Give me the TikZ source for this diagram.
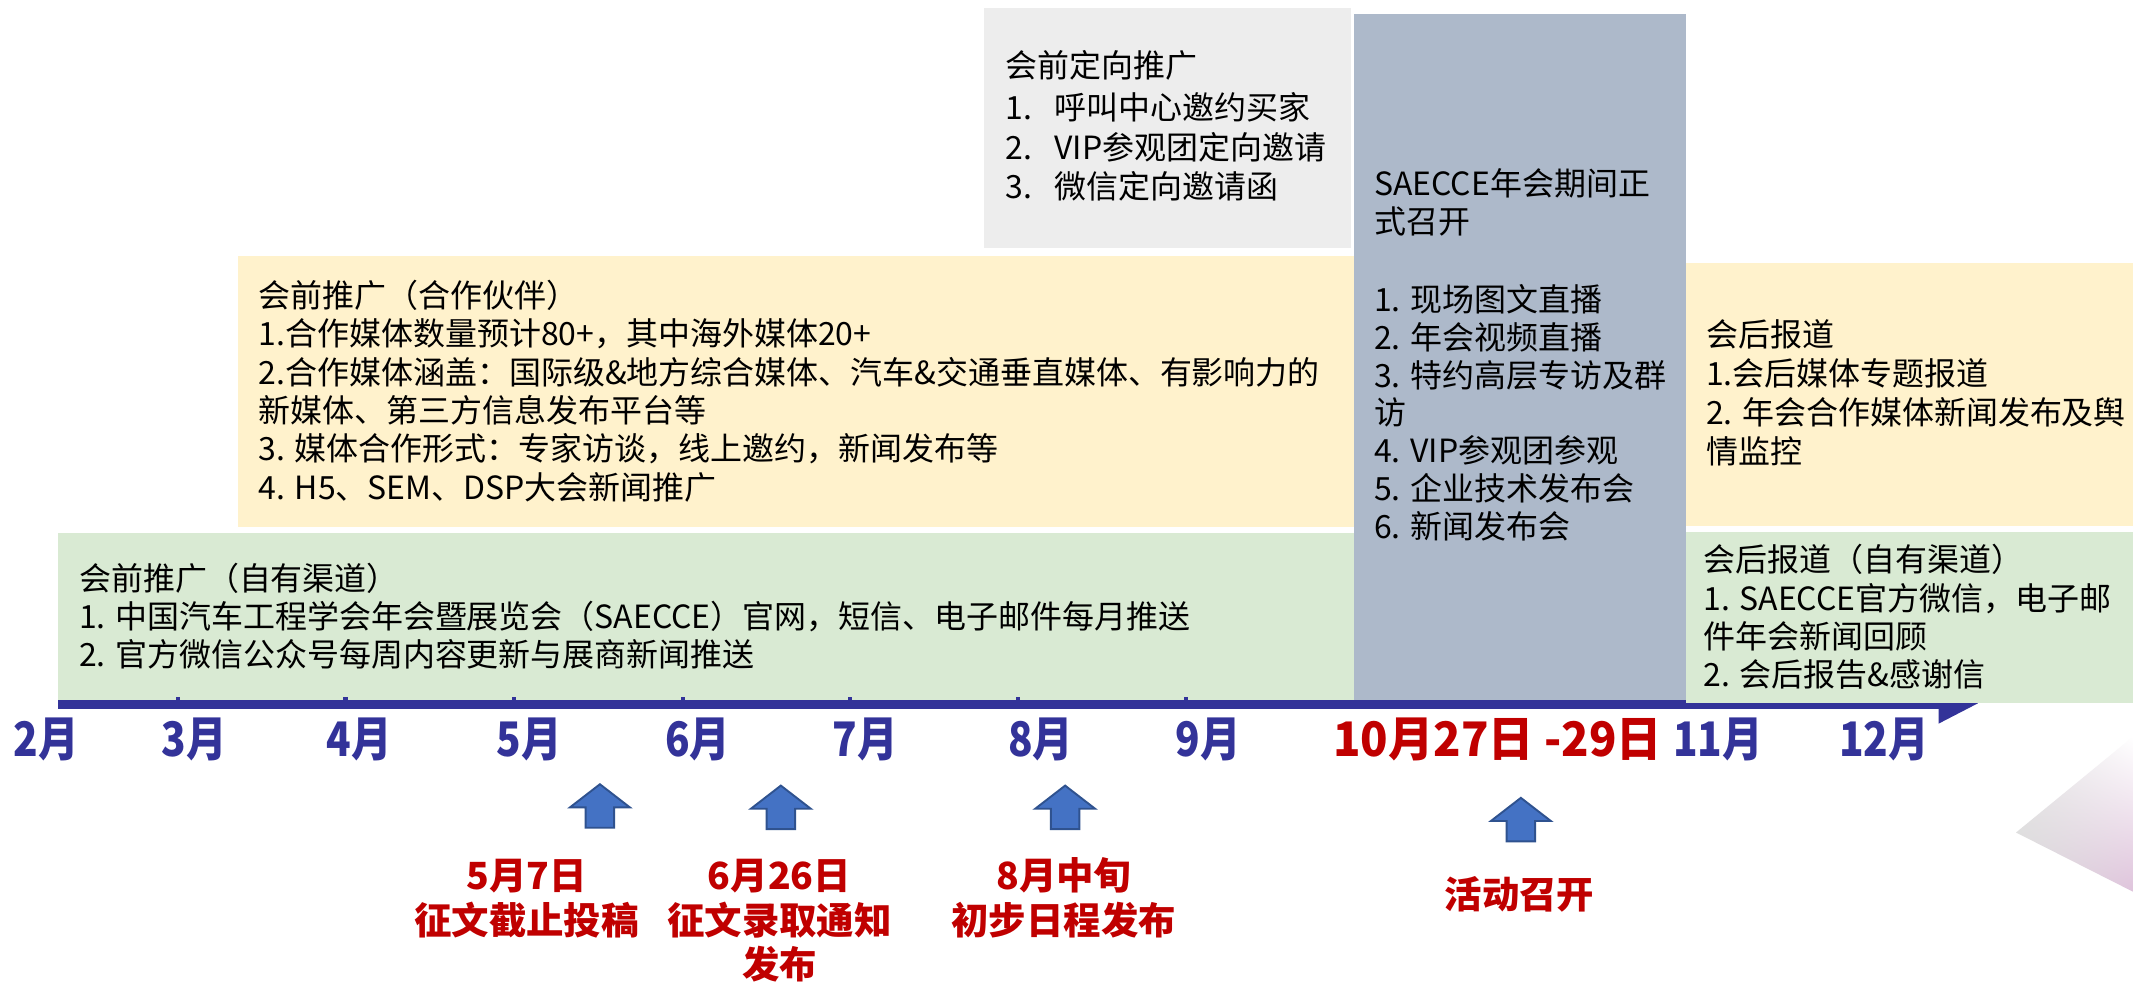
\documentclass[tikz,border=0pt]{standalone}
\usepackage{fontspec}
\usetikzlibrary{shadings}
\setmainfont{Noto Sans CJK SC}
\newfontfamily\monthfont{Noto Sans CJK SC}[FakeStretch=0.85]
\newfontfamily\datefont{Noto Sans CJK SC}[FakeStretch=0.95]
\definecolor{boxgreen}{HTML}{D9EAD3}
\definecolor{boxyellow}{HTML}{FFF2CC}
\definecolor{boxgray}{HTML}{EDEDED}
\definecolor{boxblue}{HTML}{ADB9CA}
\definecolor{tlblue}{HTML}{333399}
\definecolor{arrfill}{HTML}{4472C4}
\definecolor{arrdraw}{HTML}{2F528F}
\definecolor{myred}{HTML}{C00000}
\definecolor{decopink}{HTML}{DFC4DC}
\definecolor{decogray}{HTML}{D9D9D9}
\definecolor{decolight}{HTML}{E8E8E8}
\tikzset{
  txt/.style={font=\fontsize{23.5}{28}\selectfont, inner sep=0, anchor=base west, text=black},
  month/.style={font={\monthfont\bfseries\fontsize{35}{40}\selectfont}, text=tlblue, anchor=base, inner sep=0},
  redlbl/.style={font={\bfseries\fontsize{27.5}{33}\selectfont}, text=myred, anchor=base, inner sep=0},
  uparr/.pic={\path[fill=arrfill, draw=arrdraw, line width=1.4pt, line join=miter]
      (0,0) -- (22,17) -- (10.5,17) -- (10.5,32) -- (-10.5,32) -- (-10.5,17) -- (-22,17) -- cycle;}
}
\newcommand\tl[4]{\node[txt] (#1) at (#2,#3) {#4};}
\begin{document}
\begin{tikzpicture}[x=1pt,y=-1pt]
\useasboundingbox (0,0) rectangle (1568,722);
\fill[white] (0,0) rectangle (1568,722);
% decoration
\shade[upper left=decolight, lower left=decogray, upper right=white, lower right=decopink] (1482,612) -- (1568,541.5) -- (1568,655.5) -- cycle;
% timeline bar
\fill[tlblue] (43,514) rectangle (1426,521);
\fill[tlblue] (1425,502) -- (1454,517) -- (1425,532) -- cycle;
% boxes
\fill[boxgreen] (43,391.6) rectangle (995,514.6);
\fill[boxyellow] (175,188) rectangle (995,387.7);
\fill[boxgray] (723,6) rectangle (993,182);
\fill[boxblue] (995,10) rectangle (1239.5,514.6);
\fill[boxyellow] (1239.5,193) rectangle (1568,386.7);
\fill[boxgreen] (1239.5,390.8) rectangle (1568,516.5);
% ticks
\foreach \t in {131,254,378,502,625,748,872} {\fill[tlblue] (\t-1.5,512.6) rectangle (\t+1.5,514.6);}
% left green text
\tl{g1}{58}{434}{会前推广（自有渠道）}
\tl{g2}{58}{462}{1. 中国汽车工程学会年会暨展览会（SAECCE）官网，短信、电子邮件每月推送}
\tl{g3}{58}{490}{2. 官方微信公众号每周内容更新与展商新闻推送}
% left yellow text
\tl{y1}{190}{226}{会前推广（合作伙伴）}
\tl{y2}{190}{254.2}{1.合作媒体数量预计80+，其中海外媒体20+}
\tl{y3}{190}{282.4}{2.合作媒体涵盖：国际级\&地方综合媒体、汽车\&交通垂直媒体、有影响力的}
\tl{y4}{190}{310.6}{新媒体、第三方信息发布平台等}
\tl{y5}{190}{338.8}{3. 媒体合作形式：专家访谈，线上邀约，新闻发布等}
\tl{y6}{190}{367}{4. H5、SEM、DSP大会新闻推广}
% gray text
\tl{d1}{739}{57}{会前定向推广}
\tl{d2}{739}{88}{\makebox[36pt][l]{1.}呼叫中心邀约买家}
\tl{d3}{739}{117}{\makebox[36pt][l]{2.}VIP参观团定向邀请}
\tl{d4}{739}{146}{\makebox[36pt][l]{3.}微信定向邀请函}
% blue text
\tl{b1}{1010}{144}{SAECCE年会期间正}
\tl{b2}{1010}{172}{式召开}
\tl{b3}{1010}{229}{1. 现场图文直播}
\tl{b4}{1010}{257}{2. 年会视频直播}
\tl{b5}{1010}{284.5}{3. 特约高层专访及群}
\tl{b6}{1010}{312}{访}
\tl{b7}{1010}{340}{4. VIP参观团参观}
\tl{b8}{1010}{368}{5. 企业技术发布会}
\tl{b9}{1010}{396}{6. 新闻发布会}
% right yellow text
\tl{r1}{1254}{255}{会后报道}
\tl{r2}{1254}{283.5}{1.会后媒体专题报道}
\tl{r3}{1254}{312}{2. 年会合作媒体新闻发布及舆}
\tl{r4}{1254}{340.5}{情监控}
% right green text
\tl{s1}{1252}{420}{会后报道（自有渠道）}
\tl{s2}{1252}{448.5}{1. SAECCE官方微信，电子邮}
\tl{s3}{1252}{477}{件年会新闻回顾}
\tl{s4}{1252}{505}{2. 会后报告\&感谢信}
% months
\node[month] (m2) at (34,556) {2月};
\node[month] (m3) at (143,556) {3月};
\node[month] (m4) at (264,556) {4月};
\node[month] (m5) at (389,556) {5月};
\node[month] (m6) at (513,556) {6月};
\node[month] (m7) at (636,556) {7月};
\node[month] (m8) at (765,556) {8月};
\node[month] (m9) at (888,556) {9月};
\node[month, text=myred, font={\datefont\bfseries\fontsize{35}{40}\selectfont}] (m10) at (1101,556) {10月27日 -29日};
\node[month] (m11) at (1263,556) {11月};
\node[month] (m12) at (1385,556) {12月};
% arrows
\pic at (441,576.5) {uparr};
\pic at (574,577.5) {uparr};
\pic at (783,577.5) {uparr};
\pic at (1118,586.5) {uparr};
% red labels
\node[redlbl] (e1a) at (387,654) {5月7日};
\node[redlbl] (e1b) at (387,687) {征文截止投稿};
\node[redlbl] (e2a) at (573,654) {6月26日};
\node[redlbl] (e2b) at (573,687) {征文录取通知};
\node[redlbl] (e2c) at (573,719) {发布};
\node[redlbl] (e3a) at (782,654) {8月中旬};
\node[redlbl] (e3b) at (782,687) {初步日程发布};
\node[redlbl] (e4) at (1117,667.5) {活动召开};
\end{tikzpicture}
\end{document}
